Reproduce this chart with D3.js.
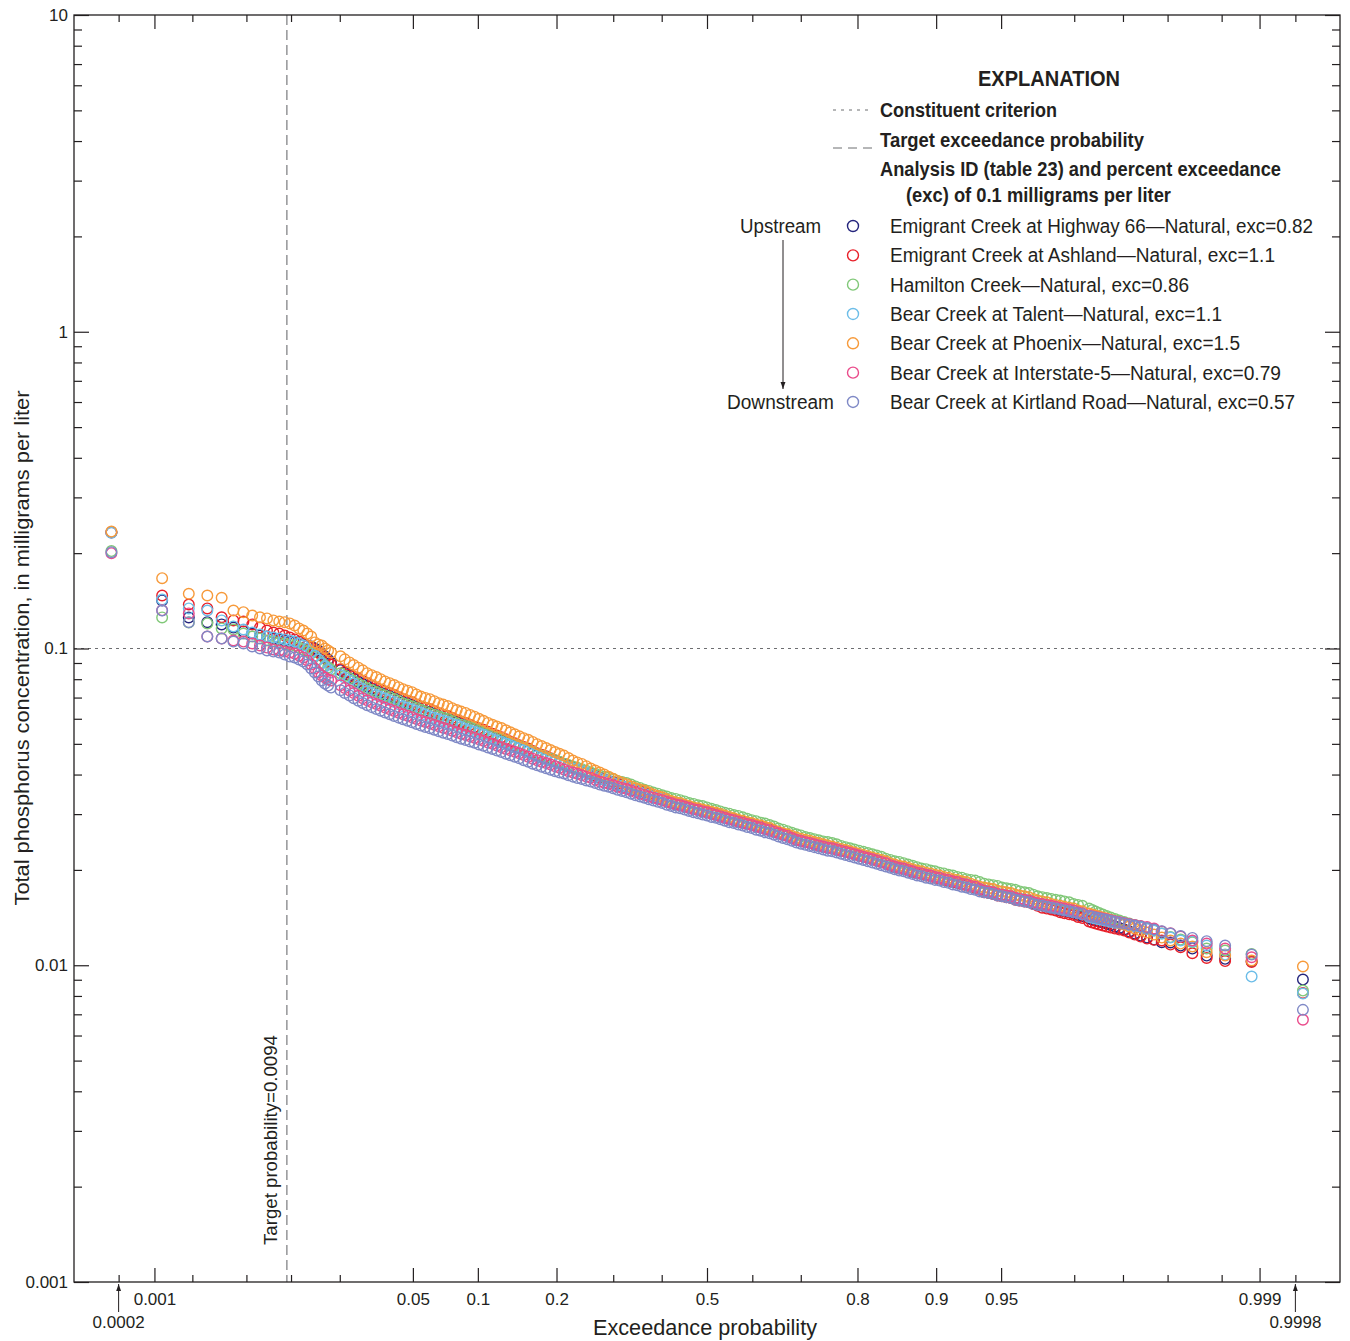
<!DOCTYPE html>
<html><head><meta charset="utf-8">
<script src="https://cdn.jsdelivr.net/npm/d3@7"></script>
<style>
body{margin:0;background:#fff;}
svg text{font-family:"Liberation Sans",Arial,sans-serif;fill:#231f20;}
</style></head><body>
<svg id="chart" width="1350" height="1341"></svg>
<script>
// ---------------- DATA ----------------
const exceedanceProbability = [
 0.000433,0.001155,0.001877,0.002599,0.003321,0.004043,0.004765,0.005487,0.006209,0.006931,
 0.007652,0.008374,0.009096,0.009818,0.01054,0.01126,0.01198,0.01271,0.01343,0.01415,
 0.01487,0.01559,0.01632,0.01704,0.01776,
 0.0202,0.0214,0.0228,0.0241,0.0256,0.0271,0.0287,0.0304,0.0322,0.0340,0.0359,0.0380,0.0401,0.0423,0.0446,0.0470,0.0495,0.0521,0.0548,0.0576,
 0.0606,0.0636,0.0668,0.0701,0.0735,0.0771,0.0808,0.0846,0.0885,0.0926,0.0968,0.1011,0.1056,0.1103,0.1151,0.1200,0.1251,0.1303,0.1357,0.1412,
 0.1469,0.1527,0.1587,0.1648,0.1711,0.1774,0.1841,0.1908,0.1977,0.2047,0.2119,0.2192,0.2266,0.2342,0.2420,0.2498,0.2578,0.2660,0.2743,0.2827,
 0.2912,0.2998,0.3085,0.3174,0.3264,0.3354,0.3446,0.3538,0.3632,0.3726,0.3821,0.3917,0.4013,0.4110,0.4207,0.4305,0.4404,0.4503,0.4602,0.4701,
 0.4801,0.4900,0.5000,0.5100,0.5199,0.5299,0.5398,0.5497,0.5596,0.5695,0.5793,0.5890,0.5987,0.6083,0.6179,0.6274,0.6368,0.6462,0.6554,0.6646,
 0.6736,0.6826,0.6915,0.7002,0.7088,0.7174,0.7257,0.7340,0.7422,0.7502,0.7580,0.7658,0.7734,0.7808,0.7881,0.7953,0.8023,0.8092,0.8159,0.8225,
 0.8289,0.8352,0.8413,0.8473,0.8531,0.8588,0.8643,0.8697,0.8749,0.8800,0.8849,0.8897,0.8944,0.8988,0.9032,0.9074,0.9115,0.9154,0.9192,0.9229,
 0.9265,0.9299,0.9332,0.9364,0.9394,0.9424,0.9452,0.9479,0.9505,0.9530,0.9554,0.9577,0.9599,0.9621,0.9641,0.9660,0.9678,0.9696,0.9713,0.9729,
 0.9744,0.9759,0.9772,0.9786,0.9798,0.9810,0.9821,
 0.98369,0.98441,0.98513,0.98585,0.98658,0.98730,0.98802,0.98874,0.98946,0.99018,
 0.99090,0.99163,0.99235,0.99307,0.99379,0.99451,0.99523,0.99596,0.99668,0.99740,
 0.99812,0.99884,0.99957
];

const emigrantHwy66 = [
 0.233,0.1418,0.1253,0.1211,0.1191,0.1165,0.1132,0.1115,0.1099,0.1091,
 0.1075,0.1068,0.1060,0.1052,0.1045,0.1037,0.1030,0.1022,0.1015,0.1000,
 0.0986,0.0964,0.0943,0.0923,0.0903,
 0.0854,0.0838,0.0822,0.0803,0.0785,0.0772,0.0760,0.0747,0.0734,0.0725,0.0716,0.0707,0.0698,0.0687,0.0677,0.0670,0.0662,0.0651,0.0641,0.0635,
 0.0629,0.0620,0.0611,0.0605,0.0599,0.0592,0.0586,0.0577,0.0569,0.0563,0.0558,0.0550,0.0542,0.0536,0.0530,0.0522,0.0514,0.0508,0.0502,0.0494,
 0.0487,0.0481,0.0476,0.0468,0.0460,0.0455,0.0451,0.0446,0.0441,0.0435,0.0430,0.0425,0.0421,0.0415,0.0410,0.0405,0.0400,0.0395,0.0391,0.0386,
 0.0382,0.0378,0.0374,0.0369,0.0365,0.0361,0.0357,0.0354,0.0351,0.0346,0.0341,0.0338,0.0335,0.0330,0.0325,0.0322,0.0320,0.0317,0.0314,0.0311,
 0.0309,0.0306,0.0304,0.0301,0.0298,0.0295,0.0292,0.0289,0.0287,0.0284,0.0282,0.0279,0.0277,0.0274,0.0272,0.0269,0.0267,0.0264,0.0261,0.0258,
 0.0256,0.0252,0.0249,0.0247,0.0245,0.0243,0.0241,0.0239,0.0237,0.0235,0.0234,0.0232,0.0230,0.0228,0.0226,0.0224,0.0222,0.0220,0.0218,0.0216,
 0.0214,0.0212,0.0210,0.0207,0.0205,0.0203,0.0202,0.0200,0.0198,0.0196,0.0195,0.0193,0.0192,0.0190,0.0189,0.0187,0.0186,0.0184,0.0183,0.0181,
 0.0180,0.0178,0.0177,0.0174,0.0172,0.0171,0.0170,0.0168,0.0167,0.0166,0.0165,0.0163,0.0162,0.0160,0.0159,0.0157,0.0156,0.0155,0.0154,0.0152,
 0.0151,0.0149,0.0148,0.0147,0.0146,0.0144,0.0143,
 0.01404,0.01394,0.01384,0.01374,0.01364,0.01354,0.01339,0.01325,0.01311,0.01296,
 0.01277,0.01259,0.01241,0.01223,0.01205,0.01182,0.0118,0.01154,0.01129,0.01073,
 0.01048,0.0103,0.00901
];

const emigrantAshland = [
 0.2324,0.1470,0.1377,0.1338,0.1255,0.1226,0.1217,0.1191,0.1165,0.1140,
 0.1123,0.1115,0.1099,0.1083,0.1068,0.1052,0.1037,0.1022,0.1007,0.0986,
 0.0971,0.0950,0.0930,0.0910,0.0890,
 0.0860,0.0844,0.0828,0.0815,0.0803,0.0790,0.0777,0.0763,0.0750,0.0741,0.0732,0.0722,0.0713,0.0702,0.0692,0.0684,0.0677,0.0666,0.0656,0.0649,
 0.0643,0.0634,0.0625,0.0618,0.0612,0.0603,0.0594,0.0588,0.0582,0.0574,0.0566,0.0560,0.0554,0.0546,0.0538,0.0531,0.0525,0.0517,0.0509,0.0502,
 0.0495,0.0489,0.0483,0.0475,0.0467,0.0462,0.0457,0.0450,0.0444,0.0438,0.0433,0.0427,0.0421,0.0415,0.0410,0.0406,0.0403,0.0397,0.0391,0.0386,
 0.0382,0.0378,0.0374,0.0369,0.0365,0.0361,0.0357,0.0354,0.0351,0.0346,0.0341,0.0338,0.0335,0.0331,0.0327,0.0324,0.0322,0.0319,0.0316,0.0313,
 0.0311,0.0308,0.0306,0.0303,0.0301,0.0297,0.0294,0.0291,0.0289,0.0286,0.0284,0.0281,0.0279,0.0276,0.0274,0.0271,0.0269,0.0266,0.0263,0.0260,
 0.0257,0.0253,0.0249,0.0247,0.0245,0.0243,0.0241,0.0239,0.0237,0.0235,0.0234,0.0232,0.0230,0.0228,0.0226,0.0224,0.0222,0.0220,0.0218,0.0216,
 0.0214,0.0212,0.0210,0.0207,0.0204,0.0202,0.0201,0.0199,0.0197,0.0195,0.0194,0.0192,0.0191,0.0189,0.0188,0.0186,0.0185,0.0183,0.0182,0.0180,
 0.0179,0.0177,0.0176,0.0173,0.0170,0.0169,0.0168,0.0166,0.0165,0.0164,0.0163,0.0161,0.0160,0.0159,0.0158,0.0156,0.0154,0.0152,0.0151,0.0150,
 0.0149,0.0147,0.0146,0.0145,0.0144,0.0142,0.0141,
 0.01374,0.01364,0.01354,0.01344,0.01335,0.01325,0.01315,0.01306,0.01296,0.01287,
 0.01268,0.0125,0.01232,0.01214,0.01203,0.01197,0.01162,0.0114,0.01091,0.01055,
 0.01031,0.01024,0.00818
];

const hamiltonCreek = [
 0.203,0.1253,0.1208,0.1200,0.1157,0.1148,0.1115,0.1091,0.1075,0.1060,
 0.1052,0.1045,0.1037,0.1030,0.1022,0.1007,0.0993,0.0978,0.0964,0.0943,
 0.0923,0.0903,0.0884,0.0871,0.0858,
 0.0835,0.0820,0.0805,0.0790,0.0774,0.0762,0.0749,0.0739,0.0729,0.0720,0.0711,0.0702,0.0693,0.0683,0.0672,0.0665,0.0657,0.0649,0.0641,0.0633,
 0.0625,0.0618,0.0611,0.0605,0.0599,0.0590,0.0581,0.0575,0.0569,0.0564,0.0558,0.0550,0.0542,0.0536,0.0530,0.0524,0.0518,0.0510,0.0502,0.0497,
 0.0491,0.0485,0.0479,0.0472,0.0464,0.0459,0.0454,0.0449,0.0444,0.0439,0.0433,0.0429,0.0424,0.0420,0.0416,0.0411,0.0406,0.0402,0.0397,0.0394,
 0.0391,0.0387,0.0382,0.0379,0.0376,0.0372,0.0367,0.0363,0.0358,0.0355,0.0351,0.0348,0.0344,0.0341,0.0337,0.0335,0.0332,0.0329,0.0325,0.0323,
 0.0320,0.0318,0.0315,0.0312,0.0309,0.0306,0.0303,0.0301,0.0298,0.0296,0.0293,0.0290,0.0287,0.0285,0.0282,0.0280,0.0277,0.0274,0.0270,0.0268,
 0.0265,0.0262,0.0259,0.0257,0.0254,0.0252,0.0250,0.0248,0.0246,0.0245,0.0243,0.0241,0.0238,0.0236,0.0234,0.0232,0.0230,0.0228,0.0226,0.0224,
 0.0222,0.0220,0.0217,0.0215,0.0213,0.0212,0.0210,0.0208,0.0206,0.0204,0.0202,0.0201,0.0199,0.0198,0.0196,0.0195,0.0193,0.0192,0.0190,0.0189,
 0.0187,0.0186,0.0185,0.0183,0.0181,0.0180,0.0179,0.0178,0.0176,0.0175,0.0174,0.0173,0.0171,0.0170,0.0169,0.0167,0.0165,0.0164,0.0163,0.0162,
 0.0161,0.0160,0.0159,0.0158,0.0156,0.0155,0.0154,
 0.0151,0.01494,0.01477,0.01462,0.01446,0.0143,0.01414,0.01399,0.01384,0.01369,
 0.01354,0.01339,0.01325,0.01306,0.01287,0.01259,0.01227,0.01205,0.01182,0.01129,
 0.01113,0.01086,0.00832
];

const bearTalent = [
 0.232,0.1428,0.1338,0.1318,0.1226,0.1174,0.1148,0.1123,0.1107,0.1091,
 0.1083,0.1075,0.1068,0.1060,0.1052,0.1037,0.1022,0.1000,0.0978,0.0950,
 0.0923,0.0897,0.0877,0.0858,0.0840,
 0.0823,0.0808,0.0793,0.0775,0.0757,0.0745,0.0733,0.0723,0.0713,0.0704,0.0695,0.0686,0.0678,0.0667,0.0657,0.0650,0.0643,0.0635,0.0628,0.0619,
 0.0611,0.0604,0.0598,0.0592,0.0586,0.0579,0.0573,0.0565,0.0557,0.0551,0.0546,0.0540,0.0534,0.0526,0.0518,0.0512,0.0507,0.0501,0.0495,0.0489,
 0.0484,0.0478,0.0472,0.0464,0.0457,0.0452,0.0447,0.0442,0.0438,0.0432,0.0427,0.0422,0.0418,0.0414,0.0410,0.0405,0.0400,0.0394,0.0389,0.0385,
 0.0382,0.0376,0.0371,0.0368,0.0365,0.0361,0.0357,0.0352,0.0348,0.0344,0.0341,0.0338,0.0335,0.0330,0.0325,0.0322,0.0320,0.0317,0.0314,0.0311,
 0.0309,0.0306,0.0304,0.0301,0.0298,0.0295,0.0292,0.0289,0.0287,0.0284,0.0282,0.0279,0.0277,0.0274,0.0272,0.0269,0.0267,0.0264,0.0261,0.0258,
 0.0256,0.0252,0.0249,0.0247,0.0245,0.0243,0.0241,0.0239,0.0237,0.0235,0.0234,0.0232,0.0230,0.0228,0.0226,0.0224,0.0222,0.0220,0.0218,0.0216,
 0.0214,0.0212,0.0210,0.0207,0.0205,0.0203,0.0202,0.0200,0.0198,0.0196,0.0195,0.0193,0.0192,0.0190,0.0189,0.0187,0.0186,0.0184,0.0183,0.0181,
 0.0180,0.0178,0.0177,0.0174,0.0172,0.0171,0.0170,0.0168,0.0167,0.0166,0.0165,0.0163,0.0162,0.0161,0.0160,0.0158,0.0157,0.0156,0.0155,0.0153,
 0.0152,0.0151,0.0150,0.0148,0.0147,0.0146,0.0145,
 0.0142,0.01413,0.01404,0.01397,0.01389,0.01381,0.01372,0.01363,0.01354,0.01344,
 0.01335,0.01325,0.01315,0.01301,0.01287,0.01259,0.01223,0.01197,0.01188,0.01154,
 0.01081,0.00921,0.00814
];

const bearPhoenix = [
 0.234,0.1667,0.1488,0.1470,0.1446,0.1318,0.1302,0.1271,0.1255,0.1244,
 0.1226,0.1217,0.1211,0.1200,0.1182,0.1157,0.1140,0.1115,0.1091,0.1045,
 0.1030,0.1022,0.1000,0.0986,0.0971,
 0.0945,0.0924,0.0904,0.0887,0.0870,0.0853,0.0836,0.0824,0.0813,0.0800,0.0787,0.0777,0.0767,0.0755,0.0744,0.0736,0.0728,0.0716,0.0705,0.0698,
 0.0692,0.0682,0.0672,0.0665,0.0658,0.0648,0.0639,0.0632,0.0626,0.0617,0.0609,0.0600,0.0591,0.0582,0.0574,0.0567,0.0561,0.0552,0.0544,0.0536,
 0.0528,0.0521,0.0515,0.0507,0.0499,0.0492,0.0485,0.0478,0.0471,0.0465,0.0459,0.0451,0.0443,0.0437,0.0432,0.0425,0.0418,0.0412,0.0406,0.0400,
 0.0394,0.0388,0.0382,0.0377,0.0373,0.0367,0.0362,0.0359,0.0356,0.0351,0.0346,0.0342,0.0339,0.0334,0.0330,0.0327,0.0325,0.0321,0.0318,0.0315,
 0.0313,0.0310,0.0308,0.0305,0.0303,0.0300,0.0297,0.0294,0.0291,0.0288,0.0286,0.0283,0.0281,0.0278,0.0276,0.0273,0.0271,0.0267,0.0264,0.0261,
 0.0259,0.0256,0.0253,0.0251,0.0249,0.0247,0.0245,0.0243,0.0241,0.0239,0.0237,0.0235,0.0233,0.0231,0.0229,0.0227,0.0225,0.0223,0.0221,0.0219,
 0.0217,0.0215,0.0213,0.0210,0.0208,0.0206,0.0205,0.0203,0.0201,0.0199,0.0198,0.0196,0.0195,0.0193,0.0192,0.0190,0.0189,0.0187,0.0186,0.0184,
 0.0183,0.0181,0.0179,0.0177,0.0176,0.0175,0.0174,0.0172,0.0171,0.0170,0.0169,0.0167,0.0166,0.0165,0.0164,0.0162,0.0160,0.0159,0.0158,0.0156,
 0.0155,0.0154,0.0153,0.0152,0.0151,0.0149,0.0148,
 0.01456,0.01446,0.01435,0.01425,0.01414,0.01404,0.01389,0.01374,0.01359,0.01344,
 0.01325,0.01306,0.01287,0.01268,0.0125,0.01223,0.01197,0.01171,0.01146,0.01099,
 0.01073,0.01035,0.00991
];

const bearInterstate5 = [
 0.200,0.132,0.1290,0.1091,0.1075,0.1060,0.1052,0.1037,0.1022,0.1007,
 0.0993,0.0986,0.0978,0.0971,0.0964,0.0950,0.0937,0.0917,0.0890,0.0865,
 0.0840,0.0822,0.0810,0.0798,0.0793,
 0.0765,0.0751,0.0737,0.0723,0.0709,0.0697,0.0686,0.0677,0.0668,0.0659,0.0651,0.0643,0.0635,0.0627,0.0620,0.0613,0.0607,0.0599,0.0592,0.0586,
 0.0581,0.0574,0.0568,0.0562,0.0557,0.0550,0.0544,0.0538,0.0533,0.0528,0.0523,0.0517,0.0511,0.0505,0.0500,0.0494,0.0488,0.0482,0.0477,0.0472,
 0.0467,0.0461,0.0455,0.0449,0.0444,0.0439,0.0435,0.0430,0.0425,0.0420,0.0415,0.0410,0.0406,0.0402,0.0398,0.0394,0.0391,0.0385,0.0380,0.0377,
 0.0374,0.0370,0.0366,0.0363,0.0360,0.0356,0.0352,0.0348,0.0345,0.0341,0.0338,0.0335,0.0332,0.0328,0.0325,0.0322,0.0320,0.0317,0.0314,0.0311,
 0.0309,0.0306,0.0304,0.0301,0.0298,0.0295,0.0292,0.0289,0.0287,0.0284,0.0282,0.0279,0.0277,0.0274,0.0272,0.0269,0.0267,0.0264,0.0261,0.0258,
 0.0256,0.0252,0.0249,0.0247,0.0245,0.0243,0.0241,0.0239,0.0237,0.0235,0.0234,0.0232,0.0230,0.0228,0.0226,0.0224,0.0222,0.0220,0.0218,0.0216,
 0.0214,0.0212,0.0210,0.0207,0.0205,0.0203,0.0202,0.0200,0.0198,0.0196,0.0195,0.0193,0.0192,0.0190,0.0189,0.0187,0.0186,0.0184,0.0183,0.0181,
 0.0180,0.0178,0.0177,0.0174,0.0172,0.0171,0.0170,0.0168,0.0167,0.0166,0.0165,0.0163,0.0162,0.0161,0.0160,0.0158,0.0157,0.0156,0.0155,0.0154,
 0.0153,0.0152,0.0151,0.0150,0.0149,0.0147,0.0146,
 0.01435,0.01428,0.0142,0.01413,0.01404,0.01396,0.01387,0.01378,0.01369,0.01359,
 0.01349,0.01339,0.0133,0.0132,0.01306,0.01277,0.01262,0.01232,0.01197,0.01171,
 0.01129,0.0106,0.00673
];

const bearKirtland = [
 0.2014,0.1318,0.1211,0.1091,0.1075,0.1052,0.1037,0.1015,0.1000,0.0986,
 0.0978,0.0971,0.0957,0.0943,0.0937,0.0923,0.0910,0.0890,0.0865,0.0840,
 0.0816,0.0793,0.0775,0.0764,0.0753,
 0.0738,0.0724,0.0711,0.0697,0.0684,0.0673,0.0662,0.0653,0.0644,0.0636,0.0628,0.0620,0.0612,0.0605,0.0598,0.0591,0.0585,0.0578,0.0571,0.0565,
 0.0560,0.0554,0.0548,0.0542,0.0537,0.0531,0.0525,0.0519,0.0514,0.0509,0.0504,0.0498,0.0493,0.0487,0.0482,0.0476,0.0471,0.0465,0.0460,0.0455,
 0.0450,0.0444,0.0439,0.0433,0.0428,0.0423,0.0419,0.0414,0.0410,0.0406,0.0403,0.0398,0.0394,0.0390,0.0387,0.0383,0.0380,0.0376,0.0372,0.0369,
 0.0366,0.0362,0.0358,0.0355,0.0352,0.0348,0.0344,0.0341,0.0338,0.0334,0.0331,0.0328,0.0325,0.0321,0.0318,0.0315,0.0313,0.0310,0.0307,0.0304,
 0.0302,0.0299,0.0297,0.0294,0.0292,0.0289,0.0286,0.0283,0.0281,0.0278,0.0276,0.0273,0.0271,0.0268,0.0266,0.0263,0.0261,0.0258,0.0255,0.0252,
 0.0250,0.0247,0.0244,0.0242,0.0240,0.0238,0.0236,0.0234,0.0232,0.0230,0.0229,0.0227,0.0225,0.0223,0.0221,0.0219,0.0217,0.0215,0.0213,0.0211,
 0.0209,0.0207,0.0205,0.0203,0.0201,0.0199,0.0198,0.0196,0.0194,0.0192,0.0191,0.0189,0.0188,0.0186,0.0185,0.0183,0.0182,0.0180,0.0179,0.0177,
 0.0176,0.0174,0.0173,0.0171,0.0170,0.0169,0.0168,0.0166,0.0165,0.0164,0.0163,0.0161,0.0160,0.0159,0.0158,0.0156,0.0155,0.0154,0.0153,0.0152,
 0.0151,0.0150,0.0149,0.0148,0.0147,0.0146,0.0145,
 0.0143,0.01423,0.01414,0.01407,0.01399,0.01391,0.01382,0.01373,0.01364,0.01354,
 0.01344,0.01335,0.01325,0.01311,0.01296,0.01281,0.01259,0.01236,0.0122,0.01191,
 0.01154,0.01081,0.00723
];

const seriesNames = [
 "Emigrant Creek at Highway 66\u2014Natural, exc=0.82",
 "Emigrant Creek at Ashland\u2014Natural, exc=1.1",
 "Hamilton Creek\u2014Natural, exc=0.86",
 "Bear Creek at Talent\u2014Natural, exc=1.1",
 "Bear Creek at Phoenix\u2014Natural, exc=1.5",
 "Bear Creek at Interstate-5\u2014Natural, exc=0.79",
 "Bear Creek at Kirtland Road\u2014Natural, exc=0.57"
];
const seriesColors = ["#25257d","#e8202a","#80c878","#6cbde8","#f79a3a","#ea4b8b","#7f89c6"];
const seriesValues = [emigrantHwy66, emigrantAshland, hamiltonCreek, bearTalent, bearPhoenix, bearInterstate5, bearKirtland];

const xMajorTicks = [0.001, 0.05, 0.1, 0.2, 0.5, 0.8, 0.9, 0.95, 0.999];
const xMajorLabels = ["0.001","0.05","0.1","0.2","0.5","0.8","0.9","0.95","0.999"];
const xMinorTicks = [0.0005, 0.002, 0.005, 0.01, 0.02, 0.3, 0.4, 0.6, 0.7, 0.98, 0.99, 0.995, 0.998, 0.9995];
const yMajorTicks = [0.001, 0.01, 0.1, 1, 10];
const yMajorLabels = ["0.001","0.01","0.1","1","10"];
const criterion = 0.1;
const targetProbability = 0.0094;

// ---------------- HELPERS ----------------
function probit(p){
  const a=[-3.969683028665376e+01,2.209460984245205e+02,-2.759285104469687e+02,1.383577518672690e+02,-3.066479806614716e+01,2.506628277459239e+00];
  const b=[-5.447609879822406e+01,1.615858368580409e+02,-1.556989798598866e+02,6.680131188771972e+01,-1.328068155288572e+01];
  const c=[-7.784894002430293e-03,-3.223964580411365e-01,-2.400758277161838e+00,-2.549732539343734e+00,4.374664141464968e+00,2.938163982698783e+00];
  const d=[7.784695709041462e-03,3.224671290700398e-01,2.445134137142996e+00,3.754408661907416e+00];
  const pl=0.02425, ph=1-pl; let q,r;
  if(p<pl){q=Math.sqrt(-2*Math.log(p));return (((((c[0]*q+c[1])*q+c[2])*q+c[3])*q+c[4])*q+c[5])/((((d[0]*q+d[1])*q+d[2])*q+d[3])*q+1);}
  if(p<=ph){q=p-0.5;r=q*q;return (((((a[0]*r+a[1])*r+a[2])*r+a[3])*r+a[4])*r+a[5])*q/(((((b[0]*r+b[1])*r+b[2])*r+b[3])*r+b[4])*r+1);}
  q=Math.sqrt(-2*Math.log(1-p));return -(((((c[0]*q+c[1])*q+c[2])*q+c[3])*q+c[4])*q+c[5])/((((d[0]*q+d[1])*q+d[2])*q+d[3])*q+1);
}

// ---------------- LAYOUT ----------------
const L=74, R=1340, T=15, B=1282;
const svg = d3.select("#chart");
const xz = d3.scaleLinear().domain([probit(0.0002), probit(0.9998)]).range([L, R]);
const x = p => xz(probit(p));
const y = d3.scaleLog().domain([0.001, 10]).range([B, T]);

const defs = svg.append("defs");
defs.append("marker").attr("id","arr").attr("viewBox","0 0 10 10").attr("refX",10).attr("refY",5)
  .attr("markerWidth",7).attr("markerHeight",7).attr("markerUnits","userSpaceOnUse").attr("orient","auto")
  .append("path").attr("d","M0,1.5 L10,5 L0,8.5 z").attr("fill","#231f20");

// reference lines
svg.append("line").attr("x1",L).attr("x2",R).attr("y1",y(criterion)).attr("y2",y(criterion))
  .attr("stroke","#6d6e71").attr("stroke-width",1).attr("stroke-dasharray","3,4");
svg.append("line").attr("x1",x(targetProbability)).attr("x2",x(targetProbability)).attr("y1",T).attr("y2",B)
  .attr("stroke","#6d6e71").attr("stroke-width",1.1).attr("stroke-dasharray","10,5");

// points
seriesValues.forEach((vals, si) => {
  const n = Math.min(vals.length, exceedanceProbability.length);
  if (vals.length !== exceedanceProbability.length) console.error("length mismatch", si, vals.length, exceedanceProbability.length);
  const pts = d3.range(n).map(i => ({p: exceedanceProbability[i], v: vals[i]}));
  svg.append("g").selectAll("circle").data(pts).join("circle")
    .attr("cx", d => x(d.p)).attr("cy", d => y(d.v)).attr("r", 5.3)
    .attr("fill","none").attr("stroke", seriesColors[si]).attr("stroke-width", 1.4);
});

// axes
function styleAxis(g){
  g.select(".domain").remove();
  g.selectAll(".tick line").attr("stroke","#231f20").attr("stroke-width",1.2);
  g.selectAll("text").attr("font-size",17).attr("font-family",null).attr("fill","#231f20");
}
const zMajor = xMajorTicks.map(probit), zMinor = xMinorTicks.map(probit);
svg.append("g").attr("transform",`translate(0,${B})`)
  .call(d3.axisBottom(xz).tickValues(zMajor).tickSize(-14).tickPadding(11).tickFormat((d,i)=>xMajorLabels[i])).call(styleAxis);
svg.append("g").attr("transform",`translate(0,${B})`)
  .call(d3.axisBottom(xz).tickValues(zMinor).tickSize(-7).tickFormat("")).call(styleAxis);
svg.append("g").attr("transform",`translate(0,${T})`)
  .call(d3.axisTop(xz).tickValues(zMajor).tickSize(-14).tickFormat("")).call(styleAxis);
svg.append("g").attr("transform",`translate(0,${T})`)
  .call(d3.axisTop(xz).tickValues(zMinor).tickSize(-7).tickFormat("")).call(styleAxis);

const yMinor = [];
[0.001,0.01,0.1,1].forEach(dec => { for (let m=2;m<=9;m++) yMinor.push(dec*m); });
svg.append("g").attr("transform",`translate(${L},0)`)
  .call(d3.axisLeft(y).tickValues(yMajorTicks).tickSize(-15).tickPadding(6).tickFormat((d,i)=>yMajorLabels[i])).call(styleAxis);
svg.append("g").attr("transform",`translate(${L},0)`)
  .call(d3.axisLeft(y).tickValues(yMinor).tickSize(-8).tickFormat("")).call(styleAxis);
svg.append("g").attr("transform",`translate(${R},0)`)
  .call(d3.axisRight(y).tickValues(yMajorTicks).tickSize(-15).tickFormat("")).call(styleAxis);
svg.append("g").attr("transform",`translate(${R},0)`)
  .call(d3.axisRight(y).tickValues(yMinor).tickSize(-8).tickFormat("")).call(styleAxis);

svg.append("rect").attr("x",L).attr("y",T).attr("width",R-L).attr("height",B-T)
  .attr("fill","none").attr("stroke","#231f20").attr("stroke-width",1.3);

// edge arrows
[[0.0005,"0.0002"],[0.9995,"0.9998"]].forEach(([p,lab])=>{
  svg.append("line").attr("x1",x(p)).attr("x2",x(p)).attr("y1",1312).attr("y2",B+2)
    .attr("stroke","#231f20").attr("stroke-width",1).attr("marker-end","url(#arr)");
  svg.append("text").attr("x",x(p)).attr("y",1328).attr("text-anchor","middle").attr("font-size",17).text(lab);
});

// text helper (fits the condensed widths of the original lettering)
function txt(parent, xx, yy, s, size, width, opts={}){
  const t = parent.append("text").attr("x",xx).attr("y",yy).attr("font-size",size).text(s);
  if (width) t.attr("textLength",width).attr("lengthAdjust","spacingAndGlyphs");
  if (opts.anchor) t.attr("text-anchor",opts.anchor);
  if (opts.bold) t.attr("font-weight","bold");
  if (opts.transform) t.attr("transform",opts.transform);
  return t;
}

// axis titles
txt(svg, 705, 1335, "Exceedance probability", 22, 224, {anchor:"middle"});
txt(svg, 0, 0, "Total phosphorus concentration, in milligrams per liter", 21, 515, {anchor:"middle", transform:"translate(29,648) rotate(-90)"});
txt(svg, 0, 0, "Target probability=0.0094", 19, 210, {anchor:"middle", transform:`translate(${x(targetProbability)-10},1140) rotate(-90)`});

// legend / explanation
const lg = svg.append("g");
txt(lg, 1049, 86, "EXPLANATION", 22, 142, {anchor:"middle", bold:true});
lg.append("line").attr("x1",833).attr("x2",870).attr("y1",110).attr("y2",110).attr("stroke","#6d6e71").attr("stroke-dasharray","3,5");
txt(lg, 880, 117, "Constituent criterion", 20, 177, {bold:true});
lg.append("line").attr("x1",833).attr("x2",874).attr("y1",148).attr("y2",148).attr("stroke","#6d6e71").attr("stroke-dasharray","9,6");
txt(lg, 880, 147, "Target exceedance probability", 20, 264, {bold:true});
txt(lg, 880, 176, "Analysis ID (table 23) and percent exceedance", 20, 401, {bold:true});
txt(lg, 906, 202, "(exc) of 0.1 milligrams per liter", 20, 265, {bold:true});
const entryWidths = [423, 385, 299, 332, 350, 391, 405];
seriesNames.forEach((nm,i)=>{
  const cy = 226 + i*29.33;
  lg.append("circle").attr("cx",853).attr("cy",cy).attr("r",5.5).attr("fill","none").attr("stroke",seriesColors[i]).attr("stroke-width",1.4);
  txt(lg, 890, cy+7, nm, 20, entryWidths[i]);
});
txt(lg, 821, 233, "Upstream", 20, 81, {anchor:"end"});
txt(lg, 834, 409, "Downstream", 20, 107, {anchor:"end"});
lg.append("line").attr("x1",783).attr("x2",783).attr("y1",240).attr("y2",389).attr("stroke","#231f20").attr("stroke-width",1).attr("marker-end","url(#arr)");
</script>
</body></html>
